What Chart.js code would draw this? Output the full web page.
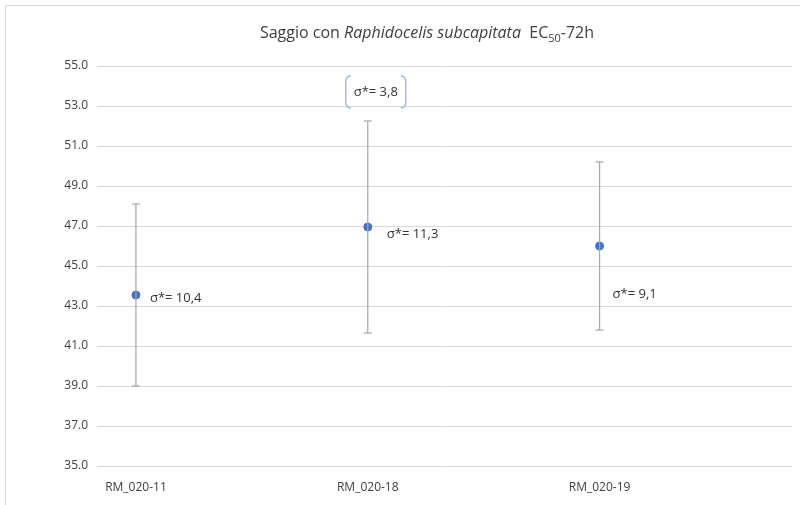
<!DOCTYPE html>
<html>
<head>
<meta charset="utf-8">
<script src="https://cdn.jsdelivr.net/npm/chart.js@4"></script>
<style>
    body { margin: 0; background: #fff; overflow: hidden; }
    #wrap { position: relative; width: 800px; height: 505px; }
    #frame { position: absolute; left: 5px; top: 5px; width: 820px; height: 520px; border: 1px solid #d9d9d9; }
    canvas { position: absolute; left: 0; top: 0; }
</style>
</head>
<body>
<div id="wrap">
    <div id="frame"></div>
    <canvas id="chart" width="800" height="505"></canvas>
</div>
<script>
let categories = ["RM_020-11", "RM_020-18", "RM_020-19"];
let means = [43.55, 46.95, 46.0];
let errors = [4.55, 5.3, 4.2];
let notes = ["σ*= 10,4", "σ*= 11,3", "σ*= 9,1"];
let noteY = [43.4, 46.6, 43.6];
let topNote = "σ*= 3,8";
let topNoteY = 53.7;
let yTicks = [35, 37, 39, 41, 43, 45, 47, 49, 51, 53, 55];

const FONT = "'Open Sans', 'Noto Sans', sans-serif";

let points = means.map((m, i) => ({x: i, y: m}));
let bars = [];
means.forEach((m, i) => {
    bars.push({x: i, y: m - errors[i]});
    bars.push({x: i, y: m + errors[i]});
    bars.push({x: i, y: null});
});

// title (mixed italic / subscript) + sigma notes
let extras = {
    id: "extras",
    afterDatasetsDraw(chart) {
        let ctx = chart.ctx;
        let xs = chart.scales.x, ys = chart.scales.y;
        ctx.save();
        ctx.fillStyle = "#333333";
        ctx.textBaseline = "middle";
        ctx.font = "13px " + FONT;
        let dx = [14, 19, 13];
        notes.forEach((t, i) => {
            ctx.fillText(t, xs.getPixelForValue(i) + dx[i], ys.getPixelForValue(noteY[i]));
        });

        // bracketed note above the middle bar
        let cx = xs.getPixelForValue(1) + 8;
        let cy = ys.getPixelForValue(topNoteY);
        ctx.textAlign = "center";
        ctx.fillText(topNote, cx, cy);
        let w = 30, h = 16;
        ctx.strokeStyle = "#9db4dc";
        ctx.lineWidth = 1.3;
        ctx.beginPath();
        ctx.moveTo(cx - w + 5, cy - h);
        ctx.quadraticCurveTo(cx - w, cy - h, cx - w, cy - h + 6);
        ctx.lineTo(cx - w, cy + h - 6);
        ctx.quadraticCurveTo(cx - w, cy + h, cx - w + 5, cy + h);
        ctx.moveTo(cx + w - 5, cy - h);
        ctx.quadraticCurveTo(cx + w, cy - h, cx + w, cy - h + 6);
        ctx.lineTo(cx + w, cy + h - 6);
        ctx.quadraticCurveTo(cx + w, cy + h, cx + w - 5, cy + h);
        ctx.stroke();

        // title
        let parts = [
            ["Saggio con ", "16px", 0],
            ["Raphidocelis subcapitata", "italic 16px", 0],
            ["  EC", "16px", 0],
            ["50", "11px", 4],
            ["-72h", "16px", 0]
        ];
        ctx.fillStyle = "#404040";
        ctx.textAlign = "left";
        ctx.textBaseline = "alphabetic";
        let total = 0;
        parts.forEach(p => { ctx.font = p[1] + " " + FONT; total += ctx.measureText(p[0]).width; });
        let x = 427 - total / 2;
        parts.forEach(p => {
            ctx.font = p[1] + " " + FONT;
            ctx.fillText(p[0], x, 38 + p[2]);
            x += ctx.measureText(p[0]).width;
        });
        ctx.restore();
    }
};

new Chart("chart", {
    type: "scatter",
    data: {
        datasets: [
            {
                data: bars,
                showLine: true,
                spanGaps: false,
                borderColor: "#a6a6a6",
                borderWidth: 1.2,
                pointStyle: "line",
                pointRadius: 4,
                pointBorderWidth: 1.2,
                pointBorderColor: "#a6a6a6",
                pointHoverRadius: 4
            },
            {
                data: points,
                backgroundColor: "#4472c4",
                borderColor: "#4472c4",
                pointRadius: 4,
                pointHoverRadius: 4
            }
        ]
    },
    plugins: [extras],
    options: {
        responsive: false,
        animation: false,
        devicePixelRatio: 1,
        layout: {padding: {left: 0, right: 8, top: 66, bottom: 0}},
        plugins: {legend: {display: false}, tooltip: {enabled: false}},
        scales: {
            x: {
                type: "linear",
                min: -0.168,
                max: 2.83,
                afterBuildTicks: s => { s.ticks = categories.map((c, i) => ({value: i})); },
                afterFit: s => { s.height = 39; },
                grid: {display: false},
                border: {display: false},
                ticks: {
                    callback: v => categories[v],
                    color: "#404040",
                    font: {family: FONT, size: 12},
                    padding: 6,
                    maxRotation: 0
                }
            },
            y: {
                min: 35,
                max: 55,
                afterBuildTicks: s => { s.ticks = yTicks.map(v => ({value: v})); },
                afterFit: s => { s.width = 97; },
                grid: {color: "#d9d9d9", drawTicks: false},
                border: {display: false},
                ticks: {
                    callback: v => v.toFixed(1),
                    color: "#404040",
                    font: {family: FONT, size: 12},
                    padding: 9
                }
            }
        }
    }
});
</script>
</body>
</html>
